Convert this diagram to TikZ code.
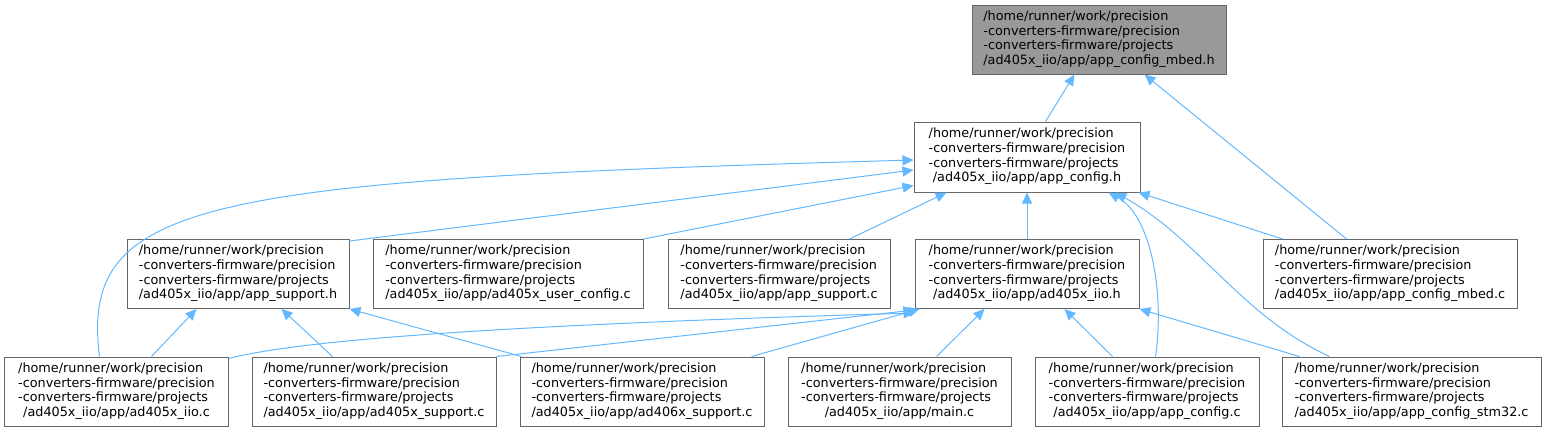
\documentclass[tikz,border=0pt]{standalone}
\usepackage{fontspec}
\setmainfont{DejaVu Sans}
\usetikzlibrary{arrows.meta}
\definecolor{edgeblue}{HTML}{63B8FF}
\definecolor{boxgray}{HTML}{666666}
\definecolor{topfill}{HTML}{999999}
\newcommand{\flabel}[1]{\begin{tabular}{@{}l@{}}/home/runner/work/precision\\-converters-firmware/precision\\-converters-firmware/projects\\\multicolumn{1}{@{}c@{}}{#1}\end{tabular}}
\begin{document}
\begin{tikzpicture}[x=1bp,y=-1bp,
  box/.style={draw=boxgray,line width=1bp,fill=white,rectangle,inner sep=0pt,minimum height=69bp,
    font=\fontsize{12.8bp}{14.7bp}\selectfont},
  edge/.style={draw=edgeblue,line width=1bp,{Triangle[length=11bp,width=10bp]}-}]
\useasboundingbox (0,0) rectangle (1545,432);
% nodes
\node[box,fill=topfill,minimum width=254bp] (top) at (1099,39.5) {\flabel{/ad405x\_iio/app/app\_config\_mbed.h}};
\node[box,minimum width=226bp,minimum height=70bp] (cfgh) at (1027,157) {\flabel{/ad405x\_iio/app/app\_config.h}};
\node[box,minimum width=222bp] (supph) at (238,274) {\flabel{/ad405x\_iio/app/app\_support.h}};
\node[box,minimum width=270bp] (ucfg) at (508,274) {\flabel{/ad405x\_iio/app/ad405x\_user\_config.c}};
\node[box,minimum width=222bp] (suppc) at (779,274) {\flabel{/ad405x\_iio/app/app\_support.c}};
\node[box,minimum width=224bp] (iioh) at (1027,274) {\flabel{/ad405x\_iio/app/ad405x\_iio.h}};
\node[box,minimum width=254bp] (mbedc) at (1390,274) {\flabel{/ad405x\_iio/app/app\_config\_mbed.c}};
\node[box,minimum width=223bp] (iioc) at (116.5,391.5) {\flabel{/ad405x\_iio/app/ad405x\_iio.c}};
\node[box,minimum width=244bp] (sup5) at (374,391.5) {\flabel{/ad405x\_iio/app/ad405x\_support.c}};
\node[box,minimum width=244bp] (sup6) at (642,391.5) {\flabel{/ad405x\_iio/app/ad406x\_support.c}};
\node[box,minimum width=223bp] (mainc) at (899.5,391.5) {\flabel{/ad405x\_iio/app/main.c}};
\node[box,minimum width=224bp] (cfgc) at (1147,391.5) {\flabel{/ad405x\_iio/app/app\_config.c}};
\node[box,minimum width=259bp] (stm) at (1411.5,391.5) {\flabel{/ad405x\_iio/app/app\_config\_stm32.c}};
% edges
\draw[edge] ([xshift=103bp]top.south west) -- ([xshift=132bp]cfgh.north west);
\draw[edge] ([xshift=173bp]top.south west) -- ([xshift=84bp]mbedc.north west);
\draw[edge] ([yshift=-3bp]cfgh.west) .. controls (200,180) and (80,200) .. ([xshift=95bp]iioc.north west);
\draw[edge] ([yshift=-13bp]cfgh.west) -- ([yshift=-2bp]supph.north east);
\draw[edge] ([yshift=7bp]cfgh.south west) -- (ucfg.north east);
\draw[edge] ([xshift=33bp]cfgh.south west) -- ([xshift=182bp]suppc.north west);
\draw[edge] (cfgh.south) -- (iioh.north);
\draw[edge] ([xshift=-2bp]cfgh.south east) -- ([xshift=20bp]mbedc.north west);
\draw[edge] ([xshift=-32bp]cfgh.south east) .. controls (1150,215) and (1165,290) .. ([xshift=121bp]cfgc.north west);
\draw[edge] ([xshift=-25bp]cfgh.south east) .. controls (1200,240) and (1240,315) .. ([xshift=48bp]stm.north west);
\draw[edge] ([xshift=70bp]supph.south west) -- ([xshift=147bp]iioc.north west);
\draw[edge] ([xshift=155bp]supph.south west) -- ([xshift=81bp]sup5.north west);
\draw[edge] (supph.south east) -- ([xshift=2bp]sup6.north west);
\draw[edge] ([yshift=-4bp]iioh.south west) .. controls (500,325) and (300,340) .. ([yshift=-2bp]iioc.north east);
\draw[edge] ([yshift=-1bp]iioh.south west) -- (sup5.north east);
\draw[edge] ([xshift=5bp]iioh.south west) -- ([xshift=232bp]sup6.north west);
\draw[edge] ([xshift=70bp]iioh.south west) -- ([xshift=149bp]mainc.north west);
\draw[edge] ([xshift=150bp]iioh.south west) -- ([xshift=78bp]cfgc.north west);
\draw[edge] (iioh.south east) -- ([xshift=18bp]stm.north west);
\end{tikzpicture}
\end{document}
